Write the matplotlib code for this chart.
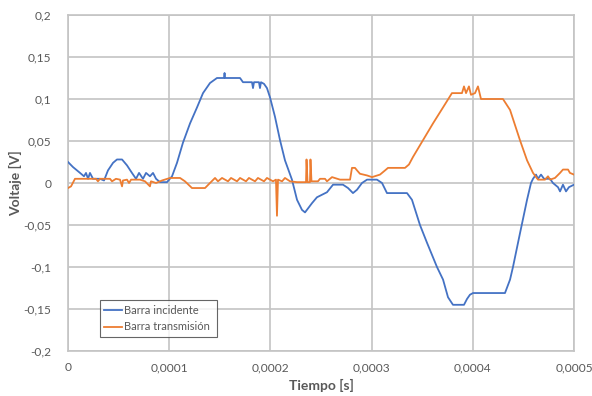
import matplotlib
matplotlib.use("Agg")
import matplotlib.pyplot as plt
from matplotlib.ticker import FixedLocator, FixedFormatter

plt.rcParams['font.family'] = ['Lato', 'DejaVu Sans']

# Incident bar signal (time in microseconds, voltage in V)
t_incidente_us = [0, 4.9, 11.9, 15.8, 17.8, 19.8, 21.7, 24.7, 31.6, 35.6, 39.5, 44.5, 48.4, 53.4,
                  58.3, 63.2, 67.2, 70.2, 74.1, 77.1, 81.0, 84.0, 87.0, 90.9, 97.8, 102.8, 107.7,
                  113.6, 120.6, 127.5, 133.4, 140.3, 147.2, 154.2, 154.7, 155.1, 170.0, 172.9,
                  181.8, 182.8, 183.8, 188.7, 189.7, 190.7, 193.7, 196.6, 199.6, 204.5, 209.5,
                  214.4, 221.3, 226.3, 231.2, 234.2, 241.1, 246.0, 255.9, 261.9, 271.7, 276.7,
                  281.6, 285.6, 290.5, 295.5, 305.3, 310.3, 315.2, 335.0, 339.9, 347.8, 354.7,
                  364.6, 370.6, 375.5, 380.4, 391.3, 394.3, 397.2, 400.2, 431.8, 436.8, 439.7,
                  446.6, 453.6, 457.5, 459.5, 462.5, 464.4, 467.4, 470.4, 476.3, 479.2, 484.2,
                  486.2, 489.1, 492.1, 495.0, 500.0]
v_incidente = [0.025, 0.019, 0.012, 0.008, 0.012, 0.005, 0.012, 0.005, 0.005, 0.003, 0.015, 0.024,
               0.028, 0.028, 0.021, 0.012, 0.005, 0.012, 0.005, 0.012, 0.008, 0.012, 0.005, 0.001,
               0.001, 0.008, 0.024, 0.048, 0.071, 0.090, 0.107, 0.119, 0.125, 0.125, 0.131, 0.125,
               0.125, 0.120, 0.120, 0.113, 0.120, 0.120, 0.113, 0.120, 0.118, 0.113, 0.102, 0.079,
               0.051, 0.027, 0.004, -0.020, -0.032, -0.035, -0.024, -0.017, -0.011, -0.002, -0.002,
               -0.006, -0.012, -0.008, 0.000, 0.004, 0.004, 0.000, -0.012, -0.012, -0.020, -0.050,
               -0.071, -0.100, -0.115, -0.136, -0.145, -0.145, -0.138, -0.133, -0.131, -0.131,
               -0.115, -0.100, -0.060, -0.020, 0.000, 0.005, 0.010, 0.005, 0.010, 0.005, 0.005,
               0.000, -0.005, -0.010, -0.002, -0.010, -0.005, -0.002]

# Transmission bar signal (time in microseconds, voltage in V)
t_transmision_us = [0, 3.0, 6.9, 27.7, 29.6, 31.6, 41.5, 43.5, 47.4, 51.4, 53.4, 54.3, 58.3, 60.3,
                    62.3, 71.1, 76.1, 81.0, 82.0, 87.0, 92.9, 100.8, 110.7, 115.6, 122.5, 135.4,
                    140.3, 145.3, 148.2, 152.2, 158.1, 161.1, 167.0, 170.0, 175.9, 178.8, 184.8,
                    187.7, 193.7, 196.6, 202.6, 205.5, 206.5, 207.5, 211.5, 214.4, 219.4, 226.3,
                    235.2, 235.7, 236.7, 239.1, 239.6, 240.6, 247.0, 249.0, 254.0, 255.9, 260.9,
                    268.8, 278.7, 280.6, 283.6, 285.6, 288.5, 295.5, 300.4, 308.3, 313.3, 316.2,
                    333.0, 336.9, 340.9, 350.8, 360.7, 370.6, 379.4, 389.3, 391.3, 393.3, 396.2,
                    398.2, 402.2, 405.1, 408.1, 429.8, 436.8, 446.6, 453.6, 459.5, 464.4, 471.4,
                    474.3, 476.3, 481.2, 486.2, 489.1, 494.1, 496.0, 500.0]
v_transmision = [-0.006, -0.004, 0.005, 0.005, 0.002, 0.005, 0.005, 0.002, 0.005, 0.004, -0.004,
                 0.003, 0.004, 0.000, 0.004, 0.004, 0.002, -0.004, 0.002, 0.000, 0.003, 0.006,
                 0.006, 0.002, -0.006, -0.006, 0.000, 0.006, 0.002, 0.006, 0.002, 0.006, 0.002,
                 0.006, 0.002, 0.006, 0.002, 0.006, 0.002, 0.006, 0.002, 0.004, -0.039, 0.004,
                 0.002, 0.006, 0.002, 0.001, 0.001, 0.028, 0.001, 0.001, 0.028, 0.002, 0.002,
                 0.005, 0.005, 0.002, 0.007, 0.004, 0.004, 0.018, 0.018, 0.015, 0.011, 0.009,
                 0.007, 0.010, 0.015, 0.018, 0.018, 0.022, 0.031, 0.051, 0.071, 0.090, 0.107,
                 0.107, 0.115, 0.107, 0.115, 0.105, 0.107, 0.115, 0.100, 0.100, 0.087, 0.051,
                 0.027, 0.012, 0.004, 0.004, 0.008, 0.004, 0.006, 0.012, 0.016, 0.016, 0.012,
                 0.010]

x_ticks = [0, 0.0001, 0.0002, 0.0003, 0.0004, 0.0005]
x_labels = ['0', '0,0001', '0,0002', '0,0003', '0,0004', '0,0005']
y_ticks = [-0.2, -0.15, -0.1, -0.05, 0, 0.05, 0.1, 0.15, 0.2]
y_labels = ['-0,2', '-0,15', '-0,1', '-0,05', '0', '0,05', '0,1', '0,15', '0,2']

fig = plt.figure(figsize=(5.92, 3.96), dpi=100)
ax = fig.add_axes([68 / 592, 1 - 351 / 396, 506 / 592, 336 / 396])

t_inc = [t * 1e-6 for t in t_incidente_us]
t_tra = [t * 1e-6 for t in t_transmision_us]
ax.plot(t_inc, v_incidente, color='#4472C4', lw=1.3, label='Barra incidente', zorder=3)
ax.plot(t_tra, v_transmision, color='#ED7D31', lw=1.3, label='Barra transmisión', zorder=3)

ax.set_xlim(0, 0.0005)
ax.set_ylim(-0.2, 0.2)
ax.xaxis.set_major_locator(FixedLocator(x_ticks))
ax.xaxis.set_major_formatter(FixedFormatter(x_labels))
ax.yaxis.set_major_locator(FixedLocator(y_ticks))
ax.yaxis.set_major_formatter(FixedFormatter(y_labels))

grid_col = '#C4C4C4'
ax.grid(True, color=grid_col, lw=1.2, zorder=0)
for s in ax.spines.values():
    s.set_color(grid_col)
    s.set_linewidth(1.2)
ax.tick_params(length=0, labelsize=8.6, labelcolor='#595959', pad=8)
ax.tick_params(axis='y', pad=12)

ax.set_xlabel('Tiempo [s]', fontsize=10, fontweight='bold', color='#595959', labelpad=4)
ax.set_ylabel('Voltaje [V]', fontsize=10, fontweight='bold', color='#595959', labelpad=1)

leg = ax.legend(loc='lower left', bbox_to_anchor=(0.063, 0.042, 0.231, 0.113), mode='expand',
                fontsize=8, frameon=True, fancybox=False, handlelength=1.6, handletextpad=0.2,
                borderaxespad=0, labelspacing=0.5, borderpad=0.4)
leg.get_frame().set_edgecolor('#404040')
leg.get_frame().set_linewidth(0.8)
for txt in leg.get_texts():
    txt.set_color('#595959')

fig.savefig('out.png', dpi=100)
